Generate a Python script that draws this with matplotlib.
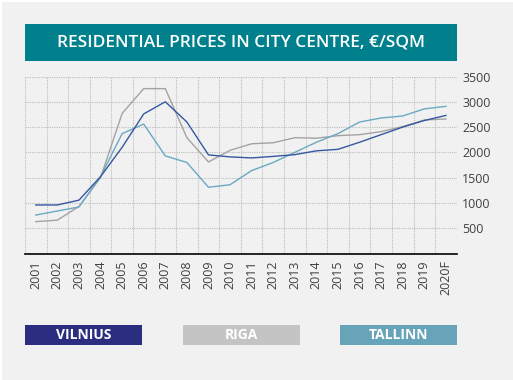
import matplotlib
matplotlib.use("Agg")
import matplotlib.pyplot as plt
from matplotlib.patches import Rectangle

years = ["2001", "2002", "2003", "2004", "2005", "2006", "2007", "2008", "2009", "2010",
         "2011", "2012", "2013", "2014", "2015", "2016", "2017", "2018", "2019", "2020F"]
vilnius = [960, 960, 1055, 1520, 2100, 2760, 3000, 2600, 1950, 1910,
           1890, 1920, 1955, 2030, 2060, 2200, 2350, 2500, 2630, 2730]
riga = [630, 660, 930, 1500, 2770, 3260, 3260, 2290, 1810, 2040,
        2170, 2190, 2290, 2280, 2330, 2350, 2410, 2510, 2640, 2660]
tallinn = [760, 840, 920, 1520, 2370, 2560, 1930, 1800, 1310, 1360,
           1640, 1800, 2000, 2200, 2370, 2600, 2680, 2720, 2860, 2910]
yticks = [500, 1000, 1500, 2000, 2500, 3000, 3500]

plt.rcParams['font.family'] = ['Open Sans', 'DejaVu Sans']

fig = plt.figure(figsize=(5.13, 3.80), dpi=100, facecolor="white")
# light grey background with a thin white border at top/left
fig.patches.append(Rectangle((2 / 513, 0), 1, 1 - 2 / 380, transform=fig.transFigure,
                             facecolor="#f1f1f1", edgecolor="none", zorder=-5))

ax = fig.add_axes([25 / 513, 1 - 253.5 / 380, 431.7 / 513, 177 / 380])
ax.set_facecolor("none")
ax.set_zorder(2)

x = list(range(len(years)))
ax.plot(x, riga, color="#a3a3a3", lw=1.0, zorder=3)
ax.plot(x, tallinn, color="#6aa9c2", lw=1.0, zorder=3)
ax.plot(x, vilnius, color="#3558a0", lw=1.0, zorder=4)

ax.set_xlim(-0.5, len(years) - 0.5)
ax.set_ylim(0, 3500)

# grid lines at category boundaries
for b in range(len(years) + 1):
    ax.axvline(b - 0.5, color="#bdbdbd", lw=0.8, ls=(0, (1, 1)), zorder=1)
for v in yticks:
    ax.axhline(v, color="#bdbdbd", lw=0.8, ls=(0, (1, 1)), zorder=1)

for s in ["top", "left", "right"]:
    ax.spines[s].set_visible(False)
ax.spines["bottom"].set_color("black")
ax.spines["bottom"].set_linewidth(1.2)
ax.spines["bottom"].set_zorder(5)

ax.set_xticks(x)
ax.set_xticklabels(years, rotation=90, fontsize=9, color="#404040")
ax.yaxis.tick_right()
ax.set_yticks(yticks)
ax.set_yticklabels([str(v) for v in yticks], fontsize=9, color="#404040")
ax.tick_params(axis="both", length=0, pad=4)
ax.tick_params(axis="x", pad=5)

# title box
fig.patches.append(Rectangle((25 / 513, 1 - 61 / 380), 432 / 513, 37 / 380,
                             transform=fig.transFigure, facecolor="#007f8c",
                             edgecolor="none", zorder=1))
fig.text(241 / 513, 1 - 42.5 / 380, "RESIDENTIAL PRICES IN CITY CENTRE, €/SQM",
         ha="center", va="center", color="white", fontsize=12.5,
         fontweight="semibold")

# legend boxes
legend = [("VILNIUS", "#2b2d80", 25), ("RIGA", "#c4c4c4", 183), ("TALLINN", "#67a3b9", 340)]
for name, col, x0 in legend:
    fig.patches.append(Rectangle((x0 / 513, 1 - 344.7 / 380), 117 / 513, 19.7 / 380,
                                 transform=fig.transFigure, facecolor=col,
                                 edgecolor="none", zorder=1))
    fig.text((x0 + 58.5) / 513, 1 - 335 / 380, name, ha="center", va="center",
             color="white", fontsize=10, fontweight="bold")

fig.savefig("out.png", dpi=100, facecolor=fig.get_facecolor())
